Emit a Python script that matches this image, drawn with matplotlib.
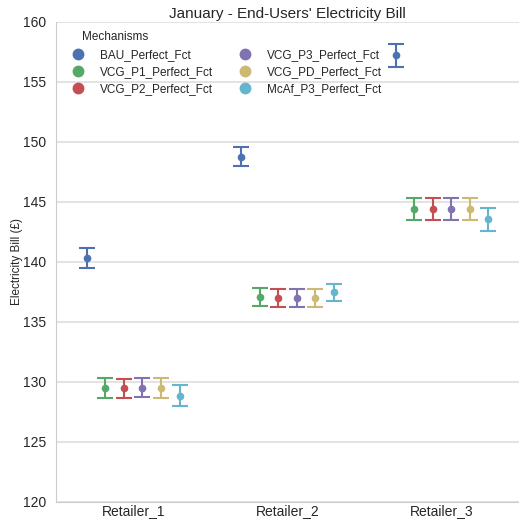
import numpy as np
import matplotlib
matplotlib.use("Agg")
import matplotlib.pyplot as plt
from matplotlib.lines import Line2D
import seaborn as sns

retailers = ["Retailer_1", "Retailer_2", "Retailer_3"]
mechanisms = ["BAU_Perfect_Fct", "VCG_P1_Perfect_Fct", "VCG_P2_Perfect_Fct",
              "VCG_P3_Perfect_Fct", "VCG_PD_Perfect_Fct", "McAf_P3_Perfect_Fct"]

# mean bill per retailer, one list per mechanism
bau = [140.3, 148.75, 157.2]
vcg_p1 = [129.5, 137.03, 144.4]
vcg_p2 = [129.45, 137.0, 144.4]
vcg_p3 = [129.5, 137.0, 144.4]
vcg_pd = [129.5, 137.0, 144.4]
mcaf_p3 = [128.85, 137.45, 143.55]

# half-width of the error bars
bau_err = [0.85, 0.8, 0.97]
vcg_p1_err = [0.82, 0.75, 0.94]
vcg_p2_err = [0.8, 0.75, 0.88]
vcg_p3_err = [0.8, 0.75, 0.92]
vcg_pd_err = [0.85, 0.75, 0.92]
mcaf_p3_err = [0.88, 0.72, 0.95]

means = [bau, vcg_p1, vcg_p2, vcg_p3, vcg_pd, mcaf_p3]
errs = [bau_err, vcg_p1_err, vcg_p2_err, vcg_p3_err, vcg_pd_err, mcaf_p3_err]

sns.set_style("whitegrid")
plt.rcParams['font.family'] = ['Liberation Sans', 'DejaVu Sans']
colors = ["#4C72B0", "#55A868", "#C44E52", "#8172B2", "#CCB974", "#64B5CD"]

fig = plt.figure(figsize=(5.19, 5.21), dpi=100)
ax = fig.add_axes([0.108, 0.037, 0.892, 0.921])

x = np.arange(len(retailers))
dodge = 0.6
offsets = np.linspace(0, dodge, len(mechanisms)) - dodge / 2

for i, m in enumerate(mechanisms):
    ax.errorbar(x + offsets[i], means[i], yerr=errs[i], fmt='o', color=colors[i],
                markersize=4.5, elinewidth=1.5, capsize=6, capthick=1.5, zorder=3)

ax.set_xlim(-0.5, 2.5)
ax.set_ylim(120, 160)
ax.set_xticks(x)
ax.set_xticklabels(retailers)
ax.set_yticks(np.arange(120, 161, 5))
ax.tick_params(axis='x', labelsize=10, length=0, pad=2, colors='.15')
ax.tick_params(axis='y', labelsize=10, length=4, width=1, color='.8', labelcolor='.15', pad=3)
ax.xaxis.grid(False)
ax.yaxis.grid(True, color='.87', lw=1.2)
for s in ['top', 'right']:
    ax.spines[s].set_visible(False)
for s in ['left', 'bottom']:
    ax.spines[s].set_color('.8')

ax.set_ylabel("Electricity Bill (£)", fontsize=8.5, color='.15', labelpad=0)
ax.set_title("January - End-Users' Electricity Bill", fontsize=11, color='.15', pad=3)

handles = [Line2D([], [], marker='o', ls='', color=c, markersize=7.5) for c in colors]
leg = ax.legend(handles, mechanisms, ncol=2, loc='upper left',
                bbox_to_anchor=(0.0, 0.966), fontsize=8.5,
                frameon=False, handletextpad=0.8, columnspacing=1.75,
                labelspacing=0.45)
# legend title placed on its own, a little indented as in the original
ax.text(0.057, 0.982, "Mechanisms", transform=ax.transAxes, fontsize=8.5,
        color='.15', va='top', ha='left')

fig.savefig("out.png", dpi=100)
